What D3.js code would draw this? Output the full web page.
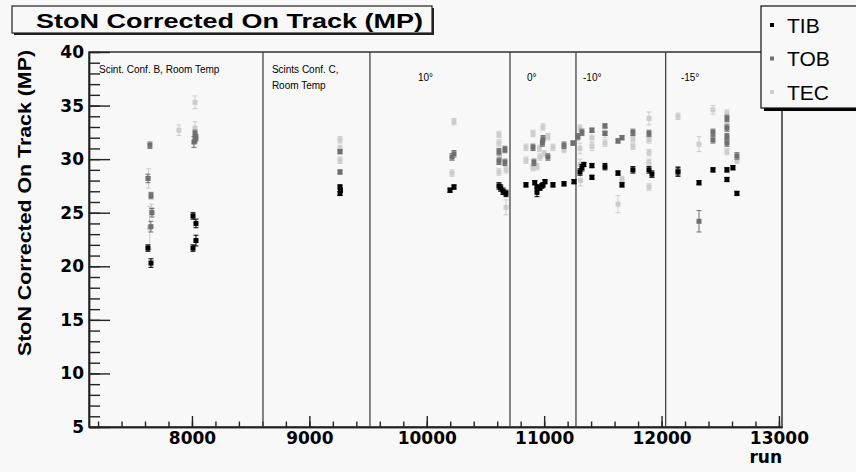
<!DOCTYPE html>
<html>
<head>
<meta charset="utf-8">
<script src="https://cdn.jsdelivr.net/npm/d3@7"></script>
<style>
body { margin:0; background:#f8f8f8; }
svg text { font-family: 'DejaVu Sans', sans-serif; }
.axis text { font-weight: bold; font-size: 17px; fill:#000; }
.axis path, .axis line { stroke:#222; stroke-width:1.4; }
.note { font-family: 'Liberation Sans', Arial, sans-serif !important; font-size: 10px; }
.helv { font-family: 'Liberation Sans', Arial, sans-serif !important; font-weight: bold; }
</style>
</head>
<body>
<div class="canvas"></div>
<script>
//VIZ DIMENSIONS
var w = 856;
var h = 472;
var margin = { left:89, right:74, top:52, bottom:45 };
var width = w - margin.left - margin.right;
var height = h - margin.top - margin.bottom;

//DATA  [run, StoN MP, error]
var seriesNames = ['TIB', 'TOB', 'TEC'];
var seriesColors = ['#000000', '#6f6f6f', '#cdcdcd'];

var tibData = [
    [7625, 21.7, 0.3], [7651, 20.3, 0.4],
    [8009, 24.7, 0.3], [8034, 24.0, 0.4], [8034, 22.4, 0.5], [8009, 21.7, 0.3],
    [9261, 27.4, 0.2], [9265, 27.1, 0.2], [9261, 26.8, 0.2],
    [10198, 27.1, 0.2], [10232, 27.4, 0.2], [10615, 27.5, 0.3], [10630, 27.3, 0.3],
    [10650, 27.0, 0.3], [10675, 26.8, 0.3],
    [10845, 27.6, 0.2], [10920, 27.8, 0.2], [10939, 27.4, 0.2], [10964, 27.3, 0.2],
    [10939, 26.9, 0.4], [10980, 27.5, 0.2], [10990, 27.6, 0.2], [11007, 27.9, 0.2],
    [11075, 27.6, 0.2], [11169, 27.7, 0.2], [11254, 27.9, 0.2],
    [11305, 28.8, 0.3], [11322, 29.2, 0.3], [11338, 29.5, 0.2], [11407, 29.4, 0.2],
    [11407, 28.3, 0.2], [11518, 29.3, 0.3], [11629, 28.7, 0.2], [11663, 27.6, 0.2],
    [11756, 29.0, 0.3], [11893, 29.0, 0.3], [11918, 28.6, 0.3],
    [12140, 28.8, 0.4], [12319, 27.8, 0.2], [12438, 29.0, 0.2], [12557, 29.0, 0.2],
    [12608, 29.2, 0.2], [12557, 28.1, 0.2], [12642, 26.8, 0.2]
];

var tobData = [
    [7625, 28.2, 0.4], [7642, 31.3, 0.3], [7651, 26.6, 0.3], [7659, 25.0, 0.4], [7650, 23.7, 0.5],
    [8026, 32.4, 0.3], [8034, 32.0, 0.3], [8017, 31.6, 0.5], [8026, 31.8, 0.3],
    [9261, 30.7, 0.2], [9261, 28.8, 0.2],
    [10215, 30.2, 0.3], [10232, 30.5, 0.3], [10615, 30.7, 0.3], [10615, 29.8, 0.3],
    [10666, 30.9, 0.3], [10666, 29.7, 0.3],
    [10905, 31.1, 0.3], [10913, 29.7, 0.3], [10985, 31.5, 0.3], [10990, 31.9, 0.3],
    [11032, 30.2, 0.3], [11169, 31.3, 0.3], [11245, 31.5, 0.2],
    [11288, 32.1, 0.3], [11322, 32.5, 0.3], [11407, 32.7, 0.2], [11518, 33.1, 0.2],
    [11518, 32.4, 0.2], [11629, 31.7, 0.2], [11663, 32.0, 0.2], [11756, 32.5, 0.3],
    [11893, 32.4, 0.3],
    [12140, 28.9, 0.4], [12319, 24.2, 1.0], [12438, 32.5, 0.3], [12438, 31.8, 0.3],
    [12557, 33.8, 0.3], [12557, 32.9, 0.3], [12557, 32.1, 0.3], [12557, 31.5, 0.3],
    [12642, 30.3, 0.3]
];

var tecData = [
    [7640, 23.6, 2.0], [7630, 28.2, 0.9], [7655, 25.3, 0.5],
    [7889, 32.7, 0.5], [8026, 35.3, 0.6], [8026, 32.9, 0.6],
    [9261, 31.8, 0.3], [9261, 31.0, 0.3], [9261, 29.9, 0.3],
    [10232, 33.5, 0.3], [10215, 28.7, 0.3],
    [10615, 32.3, 0.3], [10615, 31.5, 0.3], [10620, 30.2, 0.3], [10615, 28.8, 0.3],
    [10675, 29.0, 0.3], [10675, 25.5, 0.7],
    [10845, 31.1, 0.3], [10845, 29.9, 0.3], [10905, 32.4, 0.3], [10905, 29.2, 0.3],
    [10939, 29.3, 0.3], [10960, 31.0, 0.3], [10964, 30.2, 0.3], [10990, 33.0, 0.3],
    [11000, 30.5, 0.3], [11032, 32.1, 0.3], [11075, 31.1, 0.3], [11169, 30.9, 0.3],
    [11305, 32.9, 0.3], [11305, 31.0, 0.5], [11305, 29.5, 0.5], [11310, 28.0, 0.5],
    [11407, 32.0, 0.5], [11407, 31.2, 0.4], [11518, 32.5, 0.5], [11518, 31.5, 0.3],
    [11663, 28.1, 0.3], [11629, 25.8, 0.8], [11756, 31.9, 0.3], [11756, 31.2, 0.3],
    [11893, 33.8, 0.6], [11893, 31.8, 0.3], [11893, 30.6, 0.3], [11893, 29.7, 0.3],
    [11893, 27.4, 0.3],
    [12140, 34.0, 0.3], [12319, 31.4, 0.7], [12438, 34.6, 0.4], [12557, 34.3, 0.3],
    [12557, 33.2, 0.3], [12557, 31.8, 0.3], [12557, 30.7, 0.3], [12642, 29.9, 0.3]
];

var regionBounds = [8605, 9516, 10709, 11271, 12035];
var regionLabels = [['Scint. Conf. B, Room Temp'], ['Scints Conf. C,', 'Room Temp'], ['10°'], ['0°'], ['-10°'], ['-15°']];
var regionLabelRuns = [7208, 8681, 9925, 10854, 11331, 12165];

var xMajor = [8000, 9000, 10000, 11000, 12000, 13000];
var xMinor = d3.range(7200, 13001, 200);
var yMajor = [5, 10, 15, 20, 25, 30, 35, 40];
var yMinor = d3.range(5, 41, 1);

//SET THE SVG
var svg = d3.select('.canvas').append('svg')
    .attr('width', w)
    .attr('height', h);

svg.append('rect').attr('width', w).attr('height', h).attr('fill', '#f8f8f8');

var g = svg.append('g')
    .attr('transform', 'translate(' + margin.left + ',' + margin.top + ')');

//SCALES
var x = d3.scaleLinear().domain([7123, 13026]).range([0, width]);
var y = d3.scaleLinear().domain([5, 40]).range([height, 0]);

//FRAME
g.append('rect')
    .attr('width', width).attr('height', height)
    .attr('fill', 'none').attr('stroke', '#222').attr('stroke-width', 1.4);

//AXES - minor ticks first
g.append('g')
    .attr('class', 'axis')
    .attr('transform', 'translate(0,' + height + ')')
    .call(d3.axisBottom(x).tickValues(xMinor).tickSize(-5.5).tickSizeOuter(0).tickFormat(''));

g.append('g')
    .attr('class', 'axis')
    .attr('transform', 'translate(0,' + height + ')')
    .call(d3.axisBottom(x).tickValues(xMajor).tickSize(-11).tickSizeOuter(0).tickPadding(5).tickFormat(d3.format('d')));

g.append('g')
    .attr('class', 'axis')
    .call(d3.axisLeft(y).tickValues(yMinor).tickSize(-11).tickSizeOuter(0).tickFormat(''));

g.append('g')
    .attr('class', 'axis')
    .call(d3.axisLeft(y).tickValues(yMajor).tickSize(-21).tickSizeOuter(0).tickPadding(5).tickFormat(d3.format('d')));

//REGION SEPARATORS
g.selectAll('.region')
    .data(regionBounds)
    .enter().append('line')
    .attr('class', 'region')
    .attr('x1', d => x(d)).attr('x2', d => x(d))
    .attr('y1', y(40)).attr('y2', y(5))
    .attr('stroke', '#444').attr('stroke-width', 1.3);

//REGION LABELS
g.selectAll('.note')
    .data(regionLabels)
    .enter().append('text')
    .attr('class', 'note')
    .attr('x', (d, i) => x(regionLabelRuns[i]))
    .attr('y', d => d.length > 1 || d[0].length > 5 ? 21 : 29)
    .selectAll('tspan')
    .data(d => d)
    .enter().append('tspan')
    .attr('x', function() { return this.parentNode.getAttribute('x'); })
    .attr('dy', (d, i) => i ? 16 : 0)
    .text(d => d);

//DATA POINTS
var allSeries = [tibData, tobData, tecData];
[2, 1, 0].forEach(function(s) {
    var col = seriesColors[s];
    var grp = g.append('g').attr('class', 'series-' + seriesNames[s]);

    var eb = grp.selectAll('.err')
        .data(allSeries[s])
        .enter().append('g')
        .attr('class', 'err')
        .attr('stroke', col).attr('stroke-width', 1);
    eb.append('line')
        .attr('x1', d => x(d[0])).attr('x2', d => x(d[0]))
        .attr('y1', d => y(d[1] - d[2])).attr('y2', d => y(d[1] + d[2]));
    eb.append('line')
        .attr('x1', d => x(d[0]) - 2.5).attr('x2', d => x(d[0]) + 2.5)
        .attr('y1', d => y(d[1] - d[2])).attr('y2', d => y(d[1] - d[2]));
    eb.append('line')
        .attr('x1', d => x(d[0]) - 2.5).attr('x2', d => x(d[0]) + 2.5)
        .attr('y1', d => y(d[1] + d[2])).attr('y2', d => y(d[1] + d[2]));

    grp.selectAll('.pt')
        .data(allSeries[s])
        .enter().append('rect')
        .attr('class', 'pt')
        .attr('x', d => x(d[0]) - 2.5)
        .attr('y', d => y(d[1]) - 2.5)
        .attr('width', 5).attr('height', 5)
        .attr('fill', col);
});

//AXIS TITLES
svg.append('text')
    .attr('class', 'helv')
    .attr('transform', 'translate(31,50) rotate(-90)')
    .attr('text-anchor', 'end')
    .attr('textLength', 306).attr('lengthAdjust', 'spacingAndGlyphs')
    .style('font-size', '18px')
    .text('StoN Corrected On Track (MP)');

svg.append('text')
    .attr('x', 782).attr('y', 463)
    .attr('text-anchor', 'end')
    .style('font-weight', 'bold').style('font-size', '17px')
    .text('run');

//TITLE BOX
svg.append('rect').attr('x', 14).attr('y', 8).attr('width', 420).attr('height', 27).attr('fill', '#222');
svg.append('rect').attr('x', 12).attr('y', 6).attr('width', 420).attr('height', 27)
    .attr('fill', '#f8f8f8').attr('stroke', '#222').attr('stroke-width', 1.2);
svg.append('text')
    .attr('class', 'helv')
    .attr('x', 36).attr('y', 28)
    .attr('textLength', 387).attr('lengthAdjust', 'spacingAndGlyphs')
    .style('font-size', '20px')
    .text('StoN Corrected On Track (MP)');

//LEGEND
svg.append('rect').attr('x', 764).attr('y', 9).attr('width', 100).attr('height', 102).attr('fill', '#000');
svg.append('rect').attr('x', 761).attr('y', 6).attr('width', 100).attr('height', 102)
    .attr('fill', '#f8f8f8').attr('stroke', '#111').attr('stroke-width', 1.2);

var leg = svg.selectAll('.leg')
    .data(seriesNames)
    .enter().append('g')
    .attr('class', 'leg')
    .attr('transform', (d, i) => 'translate(772,' + (25 + i * 33.5) + ')');
leg.append('rect')
    .attr('x', -2).attr('y', -2).attr('width', 4).attr('height', 4)
    .attr('fill', (d, i) => seriesColors[i]);
leg.append('text')
    .attr('x', 15).attr('dy', '0.36em')
    .style('font-family', "'Liberation Sans', Arial, sans-serif")
    .style('font-size', '21px')
    .text(d => d);
</script>
</body>
</html>
